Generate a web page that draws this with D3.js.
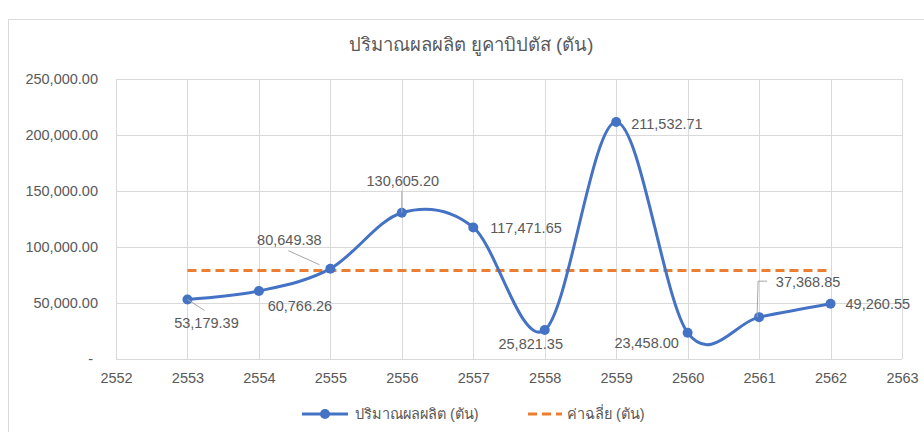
<!DOCTYPE html>
<html>
<head>
<meta charset="utf-8">
<script src="https://cdn.jsdelivr.net/npm/d3@7"></script>
<style>
  body { margin: 0; background: #fff; }
  svg { font-family: "Liberation Sans", "Noto Sans", sans-serif; }
</style>
</head>
<body>
<svg id="chart" width="924" height="432"></svg>
<script>
// data
const years = [2553, 2554, 2555, 2556, 2557, 2558, 2559, 2560, 2561, 2562];
const production = [53179.39, 60766.26, 80649.38, 130605.20, 117471.65, 25821.35, 211532.71, 23458.00, 37368.85, 49260.55];
const average = [79011.33, 79011.33, 79011.33, 79011.33, 79011.33, 79011.33, 79011.33, 79011.33, 79011.33, 79011.33];
const xTicks = [2552, 2553, 2554, 2555, 2556, 2557, 2558, 2559, 2560, 2561, 2562, 2563];
const yTicks = [0, 50000, 100000, 150000, 200000, 250000];
const title = "ปริมาณผลผลิต ยูคาบิปตัส (ตัน)";
const seriesNames = ["ปริมาณผลผลิต (ตัน)", "ค่าฉลี่ย (ตัน)"];

// label placement relative to each point (px), like excel's dragged labels
const labelPos = [
  { dx: 19, dy: 24, anchor: "middle", leader: [[0, 0], [17, 11]] },
  { dx: 41, dy: 15, anchor: "middle" },
  { dx: -41, dy: -29, anchor: "middle", leader: [[-42, -18], [-11, -4]] },
  { dx: 1, dy: -32, anchor: "middle", leader: [[0, -22], [0, 0]] },
  { dx: 17, dy: 1, anchor: "start" },
  { dx: -14, dy: 14, anchor: "middle" },
  { dx: 15, dy: 2, anchor: "start" },
  { dx: -41, dy: 10, anchor: "middle" },
  { dx: 49, dy: -35, anchor: "middle", leader: [[-2, 0], [-1, -36], [8, -36]] },
  { dx: 15, dy: 0, anchor: "start" }
];

const svg = d3.select("#chart");
const textColor = "#595959";
const gridColor = "#d9d9d9";
const blue = "#4472c4";
const orange = "#ed7d31";

// chart frame
svg.append("rect")
  .attr("x", 8.5).attr("y", 19.5)
  .attr("width", 930).attr("height", 430)
  .attr("fill", "none").attr("stroke", gridColor);

const x = d3.scaleLinear().domain([2552, 2563]).range([116, 902]);
const y = d3.scaleLinear().domain([0, 250000]).range([359, 79]);

// gridlines
svg.append("g")
  .selectAll("line")
  .data(yTicks)
  .join("line")
  .attr("x1", x(2552)).attr("x2", x(2563))
  .attr("y1", d => Math.round(y(d)) + 0.5).attr("y2", d => Math.round(y(d)) + 0.5)
  .attr("stroke", gridColor);

svg.append("g")
  .selectAll("line")
  .data(xTicks)
  .join("line")
  .attr("x1", d => Math.round(x(d)) + 0.5).attr("x2", d => Math.round(x(d)) + 0.5)
  .attr("y1", y(0)).attr("y2", y(250000))
  .attr("stroke", gridColor);

// axes (text only, lines are the grid)
const fmt = d3.format(",.2f");
const yAxis = svg.append("g")
  .attr("transform", `translate(${x(2552) - 18},0)`)
  .call(d3.axisLeft(y).tickValues(yTicks).tickSize(0).tickPadding(0)
    .tickFormat(d => d === 0 ? "-" : fmt(d)));
yAxis.select(".domain").remove();
yAxis.selectAll("text")
  .attr("font-size", "14.5px")
  .attr("font-family", null)
  .attr("fill", textColor);
yAxis.selectAll(".tick").filter(d => d === 0).select("text").attr("dx", -5);

const xAxis = svg.append("g")
  .attr("transform", `translate(0,${y(0) + 14})`)
  .call(d3.axisBottom(x).tickValues(xTicks).tickSize(0).tickPadding(0).tickFormat(d3.format("d")));
xAxis.select(".domain").remove();
xAxis.selectAll("text")
  .attr("font-size", "14.5px")
  .attr("font-family", null)
  .attr("fill", textColor);

// average line
const avgLine = d3.line()
  .x((d, i) => x(years[i]))
  .y(d => y(d));

svg.append("path")
  .datum(average)
  .attr("fill", "none")
  .attr("stroke", orange)
  .attr("stroke-width", 3)
  .attr("stroke-dasharray", "9,5")
  .attr("d", avgLine);

// production line, smoothed like excel
const prodLine = d3.line()
  .x((d, i) => x(years[i]))
  .y(d => y(d))
  .curve(d3.curveCardinal.tension(0));

svg.append("path")
  .datum(production)
  .attr("fill", "none")
  .attr("stroke", blue)
  .attr("stroke-width", 3)
  .attr("d", prodLine);

svg.append("g")
  .selectAll("circle")
  .data(production)
  .join("circle")
  .attr("cx", (d, i) => x(years[i]))
  .attr("cy", d => y(d))
  .attr("r", 5)
  .attr("fill", blue);

// leader lines + labels
const labels = svg.append("g");
production.forEach((v, i) => {
  const px = x(years[i]), py = y(v), p = labelPos[i];
  if (p.leader) {
    labels.append("polyline")
      .attr("points", p.leader.map(q => [px + q[0], py + q[1]].join(",")).join(" "))
      .attr("fill", "none")
      .attr("stroke", "#a6a6a6")
      .attr("stroke-width", 1);
  }
  labels.append("text")
    .attr("x", px + p.dx)
    .attr("y", py + p.dy)
    .attr("text-anchor", p.anchor)
    .attr("dominant-baseline", "central")
    .attr("font-size", "14.5px")
    .attr("fill", textColor)
    .text(fmt(v));
});

// title
svg.append("text")
  .attr("x", 471)
  .attr("y", 44)
  .attr("text-anchor", "middle")
  .attr("dominant-baseline", "central")
  .attr("font-size", "18.5px")
  .attr("fill", textColor)
  .text(title);

// legend
const legend = svg.append("g").attr("transform", "translate(0,414)");
legend.append("line")
  .attr("x1", 302).attr("x2", 348)
  .attr("stroke", blue).attr("stroke-width", 3);
legend.append("circle")
  .attr("cx", 325).attr("r", 5).attr("fill", blue);
legend.append("text")
  .attr("x", 355).attr("dominant-baseline", "central")
  .attr("font-size", "14.5px").attr("fill", textColor)
  .text(seriesNames[0]);
legend.append("line")
  .attr("x1", 528).attr("x2", 562)
  .attr("stroke", orange).attr("stroke-width", 3)
  .attr("stroke-dasharray", "9,5");
legend.append("text")
  .attr("x", 567).attr("dominant-baseline", "central")
  .attr("font-size", "14.5px").attr("fill", textColor)
  .text(seriesNames[1]);
</script>
</body>
</html>
